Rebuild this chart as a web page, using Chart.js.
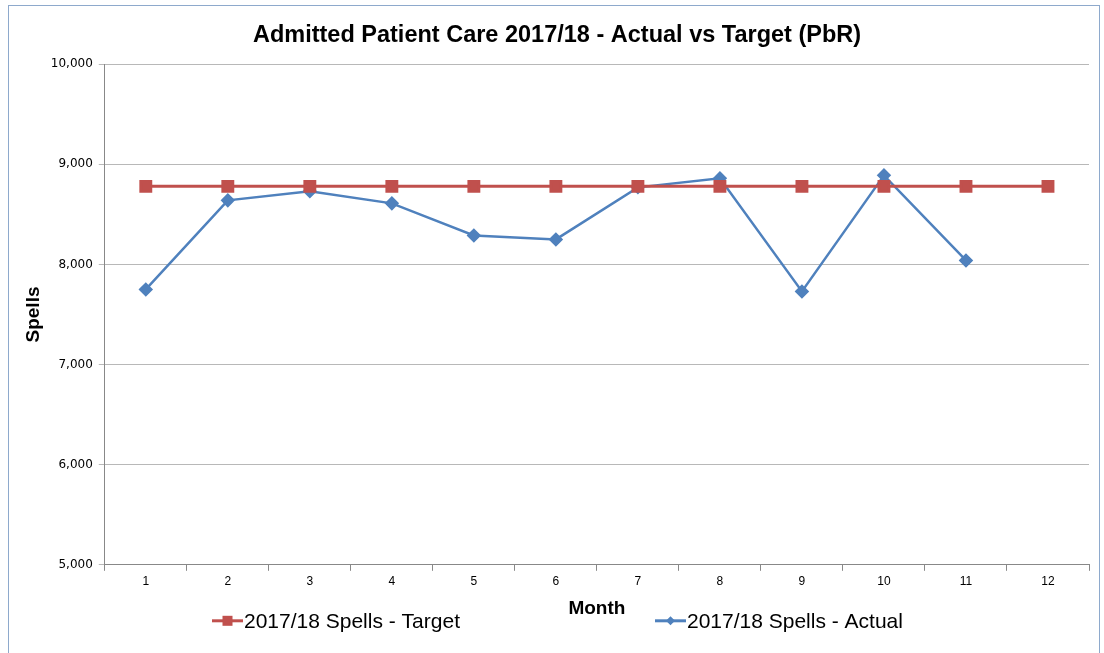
<!DOCTYPE html>
<html><head><meta charset="utf-8">
<script src="https://cdn.jsdelivr.net/npm/chart.js@4/dist/chart.umd.min.js"></script>
<style>
html,body{margin:0;padding:0;background:#fff;}
#frame{position:absolute;left:8px;top:5px;width:1092px;height:660px;border:1px solid #8ea9cc;box-sizing:border-box;}
#wrap{position:absolute;left:0;top:0;width:1090px;height:650px;}
</style></head>
<body>
<div id="frame"><div id="wrap"><canvas id="c"></canvas></div></div>
<script>
const months = ['1','2','3','4','5','6','7','8','9','10','11','12'];
const targetSpells = [8780,8780,8780,8780,8780,8780,8780,8780,8780,8780,8780,8780];
const actualSpells = [7750,8640,8730,8610,8290,8250,8770,8860,7730,8890,8040,null];
const yTicks = [5000,6000,7000,8000,9000,10000];

// Excel-style legend drawn below the axis title, items left and right of "Month"
const excelLegend = {
  id:'excelLegend',
  afterDraw(chart, args, opts){
    const ctx = chart.ctx;
    const y = chart.chartArea.bottom + opts.offsetY;
    ctx.save();
    ctx.font = opts.font;
    ctx.textBaseline = 'middle';
    ctx.fillStyle = '#000';
    chart.data.datasets.forEach((ds, i) => {
      const x0 = opts.xs[i];
      const w = 31;
      ctx.strokeStyle = ds.borderColor; ctx.lineWidth = 3;
      ctx.beginPath(); ctx.moveTo(x0, y); ctx.lineTo(x0 + w, y); ctx.stroke();
      ctx.fillStyle = ds.backgroundColor;
      const cx = x0 + w/2;
      if (ds.pointStyle === 'rect') { ctx.fillRect(cx-5, y-5, 10, 10); }
      else { ctx.beginPath(); ctx.moveTo(cx, y-4.5); ctx.lineTo(cx+4.5, y); ctx.lineTo(cx, y+4.5); ctx.lineTo(cx-4.5, y); ctx.closePath(); ctx.fill(); }
      ctx.fillStyle = '#000';
      ctx.fillText(ds.label, x0 + w + 1, y + 1);
    });
    ctx.restore();
  }
};

new Chart(document.getElementById('c'), {
  type:'line',
  data:{
    labels: months,
    datasets:[
      {label:'2017/18 Spells - Target', data:targetSpells, borderColor:'#c0504d', backgroundColor:'#c0504d',
       borderWidth:3, pointStyle:'rect', pointRadius:7, pointHoverRadius:7, tension:0},
      {label:'2017/18 Spells - Actual', data:actualSpells, borderColor:'#4f81bd', backgroundColor:'#4f81bd',
       borderWidth:2.5, pointStyle:'rectRot', pointRadius:5.5, pointHoverRadius:5.5, tension:0}
    ]
  },
  plugins:[excelLegend],
  options:{
    responsive:true, maintainAspectRatio:false, animation:false,
    layout:{padding:{left:9,right:3,top:0,bottom:36}},
    plugins:{
      title:{display:true, text:'Admitted Patient Care 2017/18 - Actual vs Target (PbR)', color:'#000',
        font:{family:'Liberation Sans', size:23.5, weight:'bold'}, padding:{top:15,bottom:15}},
      legend:{display:false},
      excelLegend:{font:'21px "Liberation Sans"', xs:[203, 646], offsetY:56},
      tooltip:{enabled:false}
    },
    scales:{
      x:{offset:true,
        grid:{display:true, drawOnChartArea:false, offset:true, tickLength:6, color:'#888'},
        border:{color:'#888'},
        ticks:{color:'#000', font:{family:'Liberation Sans', size:12}, padding:4},
        title:{display:true, text:'Month', color:'#000', font:{family:'Liberation Sans', size:19, weight:'bold'}, padding:{top:4,bottom:0}}
      },
      y:{min:5000, max:10000,
        afterBuildTicks(ax){ ax.ticks = yTicks.map(v=>({value:v})); },
        grid:{color:'#b8b8b8', tickLength:6, lineWidth:1},
        border:{color:'#888'},
        ticks:{color:'#000', font:{family:'DejaVu Sans', size:12}, padding:6,
          callback:v=>v.toLocaleString('en-US')},
        title:{display:true, text:'Spells', color:'#000', font:{family:'Liberation Sans', size:19, weight:'bold'}, padding:{top:4,bottom:0}}
      }
    }
  }
});
</script>
</body></html>
